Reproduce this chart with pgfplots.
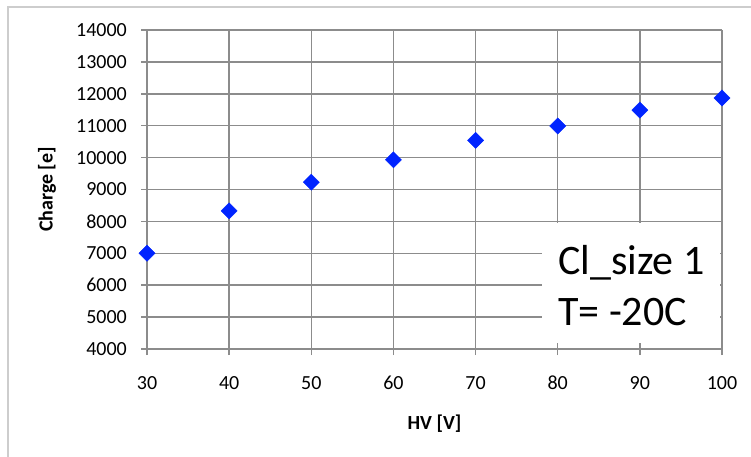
\documentclass[border=0pt]{standalone}
\usepackage{pgfplots}
\pgfplotsset{compat=1.18}
\usepackage{fontspec}
\setmainfont{Carlito}
\definecolor{gridgray}{RGB}{140,140,140}
\definecolor{markblue}{RGB}{0,36,255}
\definecolor{framegray}{RGB}{205,205,205}
\begin{document}
\begin{tikzpicture}[x=1pt,y=1pt]
\useasboundingbox (0,0) rectangle (751,456);
\draw[framegray, line width=2pt] (8,-5) -- (8,449) -- (760,449);
\begin{axis}[
  at={(147pt,107pt)}, anchor=south west,
  scale only axis, width=575pt, height=319pt,
  xmin=30, xmax=100, ymin=4000, ymax=14000,
  xtick={30,40,...,100}, ytick={4000,5000,...,14000},
  grid=major,
  major grid style={draw=gridgray, line width=1.5pt},
  axis line style={draw=gridgray, line width=1.5pt},
  tick style={draw=gridgray, line width=1.5pt},
  tick align=outside, major tick length=6pt,
  xtick pos=bottom, ytick pos=left,
  axis x line*=bottom, axis y line*=left,
  /pgf/number format/assume math mode=true,
  /pgf/number format/set thousands separator={},
  scaled y ticks=false,
  ticklabel style={font=\fontsize{20}{24}\selectfont},
  yticklabel style={inner sep=0pt, anchor=east, xshift=-14pt},
  xticklabel style={inner sep=0pt, anchor=center, yshift=-28pt},
  xlabel={HV [V]}, ylabel={Charge [e]},
  label style={font=\bfseries\fontsize{20}{24}\selectfont},
  xlabel style={at={(axis description cs:0.5,-0.2351)}, anchor=center},
  ylabel style={at={(axis description cs:-0.1739,0.5)}, anchor=center, rotate=0},
  clip=false,
]
\fill[white] (axis cs:78.1,4190) rectangle (axis cs:99.8,7960);
\addplot[only marks, mark=square*, mark size=5.7pt,
  mark options={rotate=45, fill=markblue, draw=markblue}]
  coordinates {(30,7000) (40,8330) (50,9230) (60,9930) (70,10540) (80,10990) (90,11490) (100,11870)};
\node[anchor=base west, inner sep=0pt, font=\fontsize{42}{50}\selectfont] at (axis cs:80.03,6320) {Cl\_size 1};
\node[anchor=base west, inner sep=0pt, font=\fontsize{42}{50}\selectfont] at (axis cs:80.03,4752) {T= -20C};
\end{axis}
\end{tikzpicture}
\end{document}
